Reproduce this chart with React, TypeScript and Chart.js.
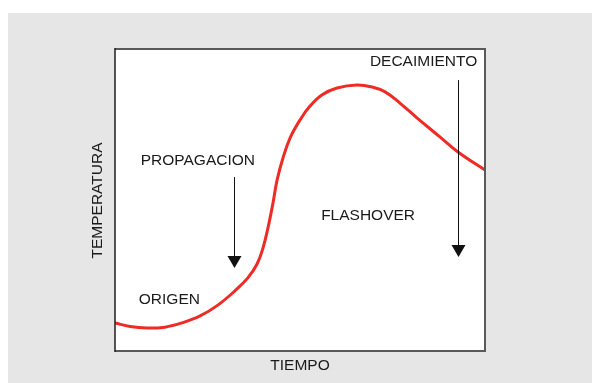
import React, { useEffect, useRef } from "react";
import { Chart, registerables } from "chart.js";

Chart.register(...registerables);

// Curve: time (0-100) vs temperature (0-100)
const timeValues = [0, 4.1, 8.6, 13.5, 18.1, 23.0, 27.8, 32.4, 35.9, 38.4, 40.0, 41.4, 42.7, 43.8, 45.4, 47.3, 50.0, 52.7, 55.9, 60.0, 65.4, 69.5, 73.0, 77.0, 81.6, 87.8, 92.7, 100];
const tempValues = [9.3, 8.1, 7.6, 7.9, 9.3, 11.6, 15.2, 19.9, 24.2, 28.8, 34.1, 41.1, 49.0, 56.6, 63.9, 70.5, 76.5, 81.1, 84.8, 87.1, 88.1, 87.4, 85.8, 82.1, 77.2, 70.9, 65.9, 59.9];

// Stage labels, positioned in data coordinates
const stageLabels = ["PROPAGACION", "ORIGEN", "FLASHOVER", "DECAIMIENTO"];
const stageLabelX = [22.4, 14.7, 68.4, 83.4];
const stageLabelY = [63.0, 17.0, 44.8, 95.7];

// Arrows: x, from y, to y (data coordinates)
const arrowX = [32.2, 92.7];
const arrowFromY = [57.6, 89.7];
const arrowToY = [27.5, 31.1];

const xTitle = "TIEMPO";
const yTitle = "TEMPERATURA";

const FONT = '15.5px "Liberation Sans", Arial, sans-serif';

const decorPlugin = {
  id: "decor",
  beforeDatasetsDraw(chart: any) {
    const { ctx, chartArea: a } = chart;
    ctx.save();
    ctx.fillStyle = "#ffffff";
    ctx.fillRect(a.left, a.top, a.right - a.left, a.bottom - a.top);
    ctx.restore();
  },
  afterDraw(chart: any) {
    const { ctx, chartArea: a, scales } = chart;
    const xs = scales.x;
    const ys = scales.y;
    ctx.save();
    // frame
    ctx.strokeStyle = "#5a5a5a";
    ctx.lineWidth = 2;
    ctx.beginPath();
    ctx.moveTo(a.left, a.top);
    ctx.lineTo(a.right, a.top);
    ctx.lineTo(a.right, a.bottom);
    ctx.lineTo(a.left, a.bottom);
    ctx.stroke();
    ctx.strokeStyle = "#1e1e1e";
    ctx.lineWidth = 1.5;
    ctx.beginPath();
    ctx.moveTo(a.left, a.top - 1);
    ctx.lineTo(a.left, a.bottom + 1);
    ctx.stroke();

    // labels
    ctx.fillStyle = "#1a1a1a";
    ctx.font = FONT;
    ctx.textAlign = "center";
    ctx.textBaseline = "middle";
    stageLabels.forEach((t, i) => {
      ctx.fillText(t, xs.getPixelForValue(stageLabelX[i]), ys.getPixelForValue(stageLabelY[i]));
    });

    // arrows
    arrowX.forEach((xv, i) => {
      const px = Math.round(xs.getPixelForValue(xv)) + 0.5;
      const y0 = ys.getPixelForValue(arrowFromY[i]);
      const y1 = ys.getPixelForValue(arrowToY[i]);
      ctx.strokeStyle = "#111";
      ctx.lineWidth = 1;
      ctx.beginPath();
      ctx.moveTo(px, y0);
      ctx.lineTo(px, y1 - 10);
      ctx.stroke();
      ctx.fillStyle = "#111";
      ctx.beginPath();
      ctx.moveTo(px - 7, y1 - 12);
      ctx.lineTo(px + 7, y1 - 12);
      ctx.lineTo(px, y1);
      ctx.closePath();
      ctx.fill();
    });

    // axis titles
    ctx.fillStyle = "#1a1a1a";
    ctx.fillText(xTitle, (a.left + a.right) / 2, a.bottom + 15);
    ctx.translate(a.left - 17.5, (a.top + a.bottom) / 2 + 0.5);
    ctx.rotate(-Math.PI / 2);
    ctx.fillText(yTitle, 0, 0);
    ctx.restore();
  },
};

export default function App() {
  const ref = useRef<HTMLCanvasElement | null>(null);
  useEffect(() => {
    document.documentElement.style.overflow = "hidden";
    document.body.style.overflow = "hidden";
    if (!ref.current) return;
    const points = timeValues.map((x, i) => ({ x, y: tempValues[i] }));
    const chart = new Chart(ref.current, {
      type: "line",
      data: {
        datasets: [
          {
            data: points,
            borderColor: "#ee2b24",
            borderWidth: 3,
            pointRadius: 0,
            tension: 0.4,
            fill: false,
          },
        ],
      },
      options: {
        animation: false,
        responsive: false,
        maintainAspectRatio: false,
        layout: { padding: { left: 107, right: 107, top: 36, bottom: 32 } },
        plugins: { legend: { display: false }, tooltip: { enabled: false } },
        scales: {
          x: { type: "linear", min: 0, max: 100, display: false },
          y: { type: "linear", min: 0, max: 100, display: false },
        },
      },
      plugins: [decorPlugin],
    } as any);
    return () => chart.destroy();
  }, []);
  return (
    <div
      style={{
        position: "fixed",
        left: 8,
        top: 13,
        width: 640,
        height: 400,
        background: "#e6e6e6",
      }}
    >
      <canvas ref={ref} width={584} height={370} style={{ display: "block" }} />
    </div>
  );
}
